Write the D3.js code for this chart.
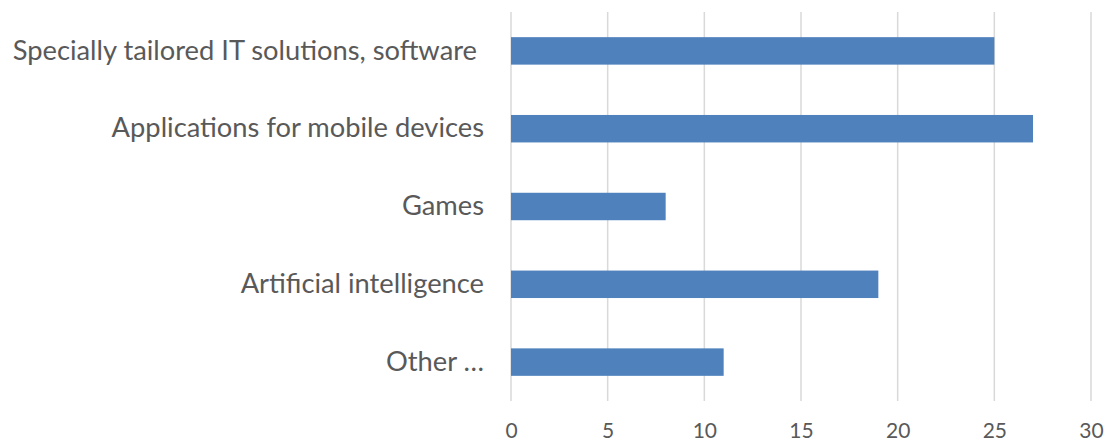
<!DOCTYPE html>
<html>
<head>
<meta charset="utf-8">
<script src="https://cdn.jsdelivr.net/npm/d3@7"></script>
<style>
  html, body { margin: 0; padding: 0; background: #fff; }
  svg { display: block; }
</style>
</head>
<body>
<svg id="chart" width="1113" height="443"></svg>
<script>
const categories = [
  "Specially tailored IT solutions, software ",
  "Applications for mobile devices",
  "Games",
  "Artificial intelligence",
  "Other \u2026"
];
const values = [25, 27, 8, 19, 11];
const tickValues = [0, 5, 10, 15, 20, 25, 30];

const svg = d3.select("#chart");
const margin = { left: 511, right: 22, top: 12, bottom: 42 };
const W = 1113, H = 443;

const x = d3.scaleLinear().domain([0, 30]).range([margin.left, W - margin.right]);
const y = d3.scaleBand().domain(categories)
  .range([margin.top, H - margin.bottom])
  .paddingInner(0.647).paddingOuter(0.3235);

// vertical gridlines
svg.append("g").selectAll("line").data(tickValues).join("line")
  .attr("x1", d => x(d)).attr("x2", d => x(d))
  .attr("y1", margin.top).attr("y2", H - margin.bottom)
  .attr("stroke", "#d9d9d9").attr("stroke-width", 1.5);

// bars
svg.append("g").selectAll("rect").data(values).join("rect")
  .attr("x", x(0))
  .attr("y", (d, i) => y(categories[i]))
  .attr("width", d => x(d) - x(0))
  .attr("height", y.bandwidth())
  .attr("fill", "#4f81bd");

// x axis tick labels, baseline placed just above the bottom edge
const xAxis = d3.axisBottom(x).tickValues(tickValues).tickSize(0).tickPadding(0);
const gx = svg.append("g").attr("transform", `translate(0,${H - 5})`).call(xAxis);
gx.select(".domain").remove();
gx.selectAll("text")
  .attr("y", 0)
  .attr("dy", 0)
  .style("font-family", "Lato, 'Open Sans', sans-serif")
  .style("font-size", "21px")
  .attr("fill", "#595959");

// category labels
const yAxis = d3.axisLeft(y).tickSize(0).tickPadding(27);
const gy = svg.append("g").attr("transform", `translate(${margin.left},0)`).call(yAxis);
gy.select(".domain").remove();
gy.selectAll("text")
  .style("white-space", "pre")
  .style("font-family", "Lato, 'Open Sans', sans-serif")
  .style("font-size", "27.3px")
  .attr("fill", "#595959");
</script>
</body>
</html>
